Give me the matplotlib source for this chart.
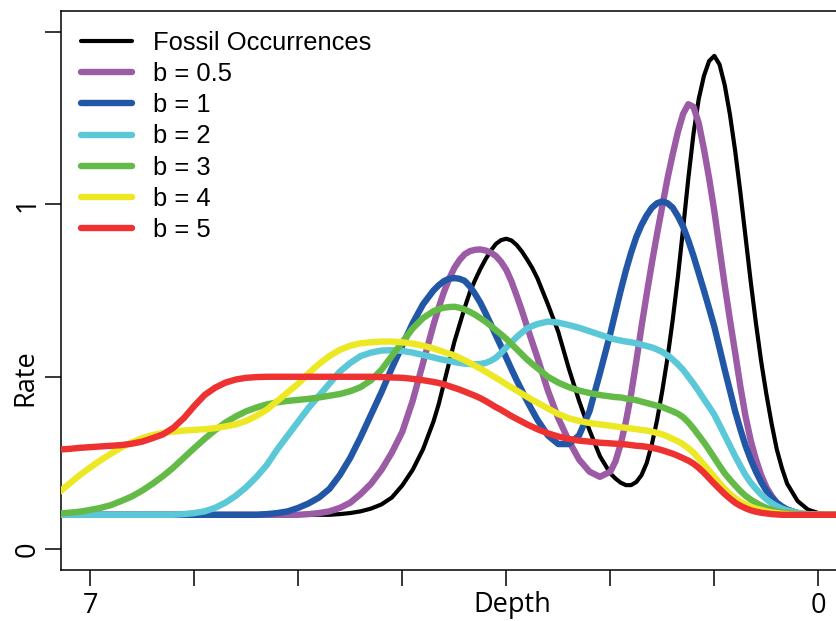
import matplotlib
matplotlib.use("Agg")
import matplotlib.pyplot as plt

depth = [7.3, 7.2, 7.1, 7.0, 6.9, 6.8, 6.7, 6.6, 6.5, 6.4,
         6.3, 6.2, 6.1, 6.0, 5.9, 5.8, 5.7, 5.6, 5.5, 5.4,
         5.3, 5.2, 5.1, 5.0, 4.9, 4.8, 4.7, 4.6, 4.5, 4.4,
         4.3, 4.2, 4.1, 4.0, 3.9, 3.8, 3.7,
         3.65, 3.6, 3.55, 3.5, 3.45, 3.4, 3.35, 3.3, 3.25, 3.2,
         3.15, 3.1, 3.05, 3.0, 2.95, 2.9, 2.85, 2.8, 2.75,
         2.7, 2.6, 2.5, 2.4, 2.3, 2.2, 2.1, 2.0,
         1.95, 1.9, 1.85, 1.8, 1.75, 1.7, 1.65, 1.6, 1.55, 1.5,
         1.45, 1.4, 1.35, 1.3, 1.25, 1.2, 1.15, 1.1, 1.05, 1.0,
         0.95, 0.9, 0.85, 0.8, 0.75, 0.7, 0.65, 0.6, 0.55, 0.5,
         0.45, 0.4, 0.35,
         0.3, 0.2, 0.1, 0.0, -0.1, -0.2]

fossil = [0.1, 0.1, 0.1, 0.1, 0.1, 0.1, 0.1, 0.1, 0.1, 0.1,
          0.1, 0.1, 0.1, 0.1, 0.1, 0.1, 0.1, 0.1, 0.1, 0.1,
          0.1, 0.1, 0.1, 0.1, 0.1, 0.1, 0.1, 0.102, 0.105, 0.11,
          0.118, 0.13, 0.15, 0.185, 0.23, 0.29, 0.37,
          0.42, 0.48, 0.54, 0.60, 0.65, 0.70, 0.745, 0.78, 0.812, 0.84,
          0.865, 0.885, 0.896, 0.90, 0.895, 0.882, 0.863, 0.84, 0.815,
          0.785, 0.71, 0.63, 0.525, 0.43, 0.345, 0.27, 0.22,
          0.205, 0.193, 0.186, 0.186, 0.195, 0.215, 0.25, 0.305, 0.375, 0.46,
          0.555, 0.665, 0.79, 0.93, 1.075, 1.205, 1.305, 1.372, 1.415, 1.43,
          1.405, 1.345, 1.26, 1.155, 1.035, 0.905, 0.775, 0.655, 0.545, 0.45,
          0.365, 0.29, 0.235,
          0.19, 0.14, 0.115, 0.105, 0.101, 0.10]

b05 = [0.1, 0.1, 0.1, 0.1, 0.1, 0.1, 0.1, 0.1, 0.1, 0.1,
       0.1, 0.1, 0.1, 0.1, 0.1, 0.1, 0.1, 0.1, 0.1, 0.1,
       0.1, 0.1, 0.1, 0.1, 0.102, 0.105, 0.11, 0.12, 0.135, 0.16,
       0.19, 0.23, 0.28, 0.34, 0.43, 0.54, 0.65,
       0.70, 0.745, 0.783, 0.815, 0.838, 0.855, 0.864, 0.868, 0.869, 0.866,
       0.86, 0.85, 0.833, 0.81, 0.776, 0.735, 0.692, 0.645, 0.60,
       0.555, 0.46, 0.38, 0.315, 0.26, 0.225, 0.21, 0.225,
       0.255, 0.305, 0.37, 0.45, 0.545, 0.645, 0.74, 0.83, 0.915, 0.995,
       1.075, 1.145, 1.21, 1.262, 1.29, 1.282, 1.235, 1.16, 1.075, 0.98,
       0.872, 0.765, 0.665, 0.57, 0.472, 0.385, 0.315, 0.26, 0.215, 0.18,
       0.155, 0.135, 0.123,
       0.115, 0.105, 0.1, 0.1, 0.1, 0.1]

b1 = [0.1, 0.1, 0.1, 0.1, 0.1, 0.1, 0.1, 0.1, 0.1, 0.1,
      0.1, 0.1, 0.1, 0.1, 0.1, 0.1, 0.1, 0.1, 0.1, 0.1,
      0.102, 0.105, 0.11, 0.12, 0.133, 0.15, 0.175, 0.215, 0.265, 0.325,
      0.39, 0.455, 0.525, 0.59, 0.655, 0.71, 0.75,
      0.765, 0.777, 0.784, 0.786, 0.784, 0.778, 0.762, 0.74, 0.715, 0.685,
      0.653, 0.62, 0.588, 0.555, 0.522, 0.49, 0.46, 0.43, 0.402,
      0.375, 0.33, 0.305, 0.305, 0.33, 0.40, 0.51, 0.625,
      0.688, 0.75, 0.808, 0.86, 0.905, 0.94, 0.968, 0.99, 1.003, 1.008,
      1.003, 0.99, 0.965, 0.935, 0.895, 0.85, 0.80, 0.75, 0.698, 0.645,
      0.583, 0.52, 0.46, 0.40, 0.348, 0.30, 0.26, 0.225, 0.195, 0.17,
      0.15, 0.135, 0.124,
      0.115, 0.105, 0.1, 0.1, 0.1, 0.1]

b2 = [0.1, 0.1, 0.1, 0.1, 0.1, 0.1, 0.1, 0.1, 0.1, 0.1,
      0.1, 0.1, 0.102, 0.105, 0.11, 0.12, 0.135, 0.155, 0.18, 0.21,
      0.245, 0.29, 0.33, 0.37, 0.41, 0.445, 0.48, 0.515, 0.54, 0.56,
      0.57, 0.576, 0.577, 0.575, 0.57, 0.563, 0.556,
      0.552, 0.549, 0.546, 0.543, 0.54, 0.538, 0.537, 0.536, 0.537, 0.54,
      0.546, 0.555, 0.569, 0.585, 0.60, 0.615, 0.628, 0.64, 0.647,
      0.653, 0.66, 0.657, 0.65, 0.642, 0.632, 0.622, 0.612,
      0.608, 0.605, 0.602, 0.60, 0.597, 0.593, 0.589, 0.585, 0.579, 0.572,
      0.562, 0.55, 0.536, 0.52, 0.50, 0.48, 0.458, 0.435, 0.413, 0.39,
      0.36, 0.33, 0.30, 0.27, 0.242, 0.215, 0.193, 0.175, 0.159, 0.145,
      0.134, 0.125, 0.118,
      0.113, 0.106, 0.102, 0.1, 0.1, 0.1]

b3 = [0.104, 0.106, 0.109, 0.114, 0.12, 0.128, 0.14, 0.153, 0.17, 0.19,
      0.212, 0.237, 0.265, 0.293, 0.32, 0.345, 0.367, 0.385, 0.40, 0.411,
      0.42, 0.426, 0.43, 0.433, 0.436, 0.44, 0.445, 0.45, 0.458, 0.47,
      0.49, 0.52, 0.56, 0.60, 0.64, 0.67, 0.69,
      0.696, 0.70, 0.702, 0.703, 0.70, 0.695, 0.688, 0.68, 0.67, 0.66,
      0.648, 0.635, 0.623, 0.61, 0.595, 0.58, 0.565, 0.55, 0.537,
      0.525, 0.50, 0.483, 0.47, 0.46, 0.453, 0.447, 0.443,
      0.441, 0.44, 0.437, 0.435, 0.432, 0.428, 0.424, 0.42, 0.416, 0.412,
      0.406, 0.40, 0.393, 0.383, 0.368, 0.35, 0.33, 0.31, 0.288, 0.265,
      0.242, 0.22, 0.202, 0.185, 0.169, 0.155, 0.144, 0.135, 0.127, 0.12,
      0.115, 0.11, 0.107,
      0.105, 0.102, 0.1, 0.1, 0.1, 0.1]

b4 = [0.165, 0.19, 0.215, 0.237, 0.258, 0.277, 0.295, 0.31, 0.322, 0.331,
      0.337, 0.341, 0.344, 0.346, 0.348, 0.351, 0.356, 0.362, 0.372, 0.387,
      0.405, 0.43, 0.455, 0.48, 0.51, 0.537, 0.56, 0.578, 0.59, 0.597,
      0.6, 0.602, 0.602, 0.6, 0.596, 0.59, 0.582,
      0.577, 0.572, 0.567, 0.562, 0.555, 0.548, 0.54, 0.532, 0.524, 0.515,
      0.506, 0.497, 0.488, 0.478, 0.469, 0.46, 0.451, 0.442, 0.433,
      0.425, 0.408, 0.392, 0.38, 0.372, 0.366, 0.362, 0.358,
      0.356, 0.354, 0.352, 0.35, 0.348, 0.346, 0.344, 0.341, 0.337, 0.333,
      0.327, 0.32, 0.313, 0.304, 0.293, 0.28, 0.263, 0.245, 0.228, 0.21,
      0.192, 0.175, 0.161, 0.148, 0.138, 0.13, 0.123, 0.118, 0.114, 0.11,
      0.107, 0.105, 0.103,
      0.102, 0.1, 0.1, 0.1, 0.1, 0.1]

b5 = [0.289, 0.291, 0.294, 0.296, 0.298, 0.30, 0.302, 0.306, 0.312, 0.322,
      0.333, 0.352, 0.38, 0.415, 0.447, 0.468, 0.483, 0.492, 0.497, 0.499,
      0.5, 0.5, 0.5, 0.5, 0.5, 0.5, 0.5, 0.5, 0.5, 0.5,
      0.5, 0.499, 0.498, 0.497, 0.494, 0.49, 0.485,
      0.482, 0.478, 0.473, 0.468, 0.463, 0.457, 0.451, 0.445, 0.438, 0.43,
      0.421, 0.412, 0.404, 0.395, 0.386, 0.378, 0.37, 0.362, 0.355,
      0.348, 0.336, 0.327, 0.32, 0.315, 0.312, 0.309, 0.307,
      0.306, 0.305, 0.304, 0.302, 0.30, 0.299, 0.297, 0.294, 0.291, 0.287,
      0.282, 0.277, 0.271, 0.264, 0.257, 0.248, 0.236, 0.222, 0.206, 0.19,
      0.175, 0.16, 0.147, 0.135, 0.126, 0.119, 0.113, 0.109, 0.106, 0.104,
      0.102, 0.101, 0.1,
      0.1, 0.1, 0.1, 0.1, 0.1, 0.1]

labels = ["Fossil Occurrences", "b = 0.5", "b = 1", "b = 2", "b = 3", "b = 4", "b = 5"]
colors = ["#000000", "#9B5BA5", "#2157A6", "#5BC8D7", "#64BA46", "#EDE824", "#EE3131"]
series = [fossil, b05, b1, b2, b3, b4, b5]

AXFONT = "Open Sans"
W, H = 836, 621
fig = plt.figure(figsize=(W / 100, H / 100), dpi=100)
left, right, top, bottom = 61, 847.5, 11, 570
ax = fig.add_axes([left / W, 1 - bottom / H, (right - left) / W, (bottom - top) / H])

for i, (ys, c, lab) in enumerate(zip(series, colors, labels)):
    lw = 3.0 if i == 0 else 4.6
    ax.plot(depth, ys, color=c, lw=lw, label=lab, solid_capstyle="round",
            solid_joinstyle="round", zorder=2 + i)

ax.set_xlim(7.28, -0.28)
ax.set_ylim(-0.06, 1.56)

ax.set_xticks([7, 6, 5, 4, 3, 2, 1, 0])
ax.set_xticklabels(["7", "", "", "", "", "", "", "0"])
ax.set_yticks([0, 0.5, 1, 1.5])
ax.set_yticklabels(["0", "", "1", ""])
ax.tick_params(axis="both", direction="out", length=11.2, width=1.1, color="black",
               labelsize=19.5)
ax.tick_params(axis="x", pad=4.5)
ax.tick_params(axis="y", pad=3)
for t in ax.get_xticklabels() + ax.get_yticklabels():
    t.set_fontfamily(AXFONT)
for t in ax.get_yticklabels():
    t.set_rotation(90)
    t.set_va("center")
for s in ax.spines.values():
    s.set_linewidth(1.1)

ax.text((512.5 - left) / (right - left), -(611.7 - bottom) / (bottom - top), "Depth",
        transform=ax.transAxes, ha="center", va="baseline", fontsize=19.5,
        fontfamily=AXFONT)
ax.set_ylabel("Rate", fontsize=19.5, fontfamily=AXFONT)
ax.yaxis.set_label_coords((39.5 - left) / (right - left), (bottom - 377.5) / (bottom - top))

leg = ax.legend(loc="upper left", bbox_to_anchor=((81 - left) / (right - left), (bottom - 31) / (bottom - top)),
                frameon=False, borderaxespad=0, borderpad=0, handlelength=2.0,
                handletextpad=0.8, labelspacing=0.28,
                prop={"family": "Liberation Sans", "size": 18.4})
for h in leg.get_lines():
    h.set_solid_capstyle("round")

fig.savefig("out.png", dpi=100)
